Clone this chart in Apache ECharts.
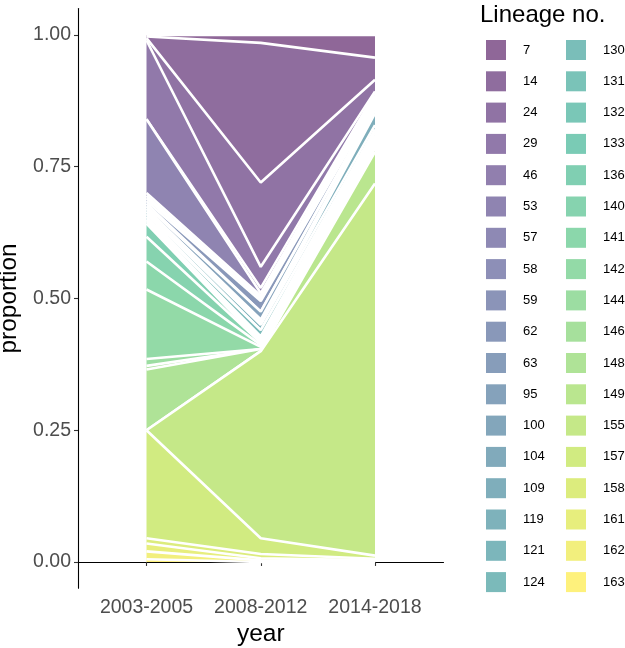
<!DOCTYPE html>
<html>
<head>
<meta charset="utf-8">
<script src="https://cdn.jsdelivr.net/npm/echarts@6/dist/echarts.min.js"></script>
<style>html,body{margin:0;padding:0;background:#fff}#c{width:625px;height:648px}</style>
</head>
<body>
<div id="c"></div>
<script>
// ---- data ----
const years = ['2003-2005', '2008-2012', '2014-2018'];
const lineages = ['7','14','24','29','46','53','57','58','59','62','63','95','100','104','109','119','121','124','130','131','132','133','136','140','141','142','144','146','148','149','155','157','158','161','162','163'];
const p2003 = [.003,.003,.004,.150,0,.140,.005,.005,.005,.005,.005,.005,0,.005,.005,.005,.005,.003,.005,0,0,0,.025,.047,.053,.132,.013,.007,.115,0,0,.205,.010,.015,.015,.005];
const p2008 = [.015,.265,.160,.040,.010,.005,.005,0,.005,.020,0,.015,.005,.005,0,.010,0,.012,.004,.004,0,.004,0,.004,.004,.004,0,0,.004,0,.355,.030,.008,.004,.003,0];
const p2014 = [.043,.042,.022,.004,.004,.004,.004,.004,.004,.004,.004,.004,0,.006,.022,.008,.004,0,.004,.004,0,.004,.004,0,.004,.004,.004,.004,.007,.060,.706,.006,.003,.002,.001,0];
const yTicks = [0, 0.25, 0.5, 0.75, 1];

// ---- colours: viridis, alpha 0.6 over white ----
const viridisStops = ['#440154','#482576','#414487','#35608D','#2A788E','#21908C','#22A884','#43BF71','#7AD151','#BBDF27','#FDE725'];
function hex(h){return [parseInt(h.slice(1,3),16),parseInt(h.slice(3,5),16),parseInt(h.slice(5,7),16)];}
function viridis(t){
  const s = t*(viridisStops.length-1); const i = Math.min(Math.floor(s), viridisStops.length-2); const f = s-i;
  const a = hex(viridisStops[i]), b = hex(viridisStops[i+1]);
  return a.map((v,k)=>v+(b[k]-v)*f);
}
function fillColor(i){
  const c = viridis(i/(lineages.length-1));
  const m = c.map(v=>Math.round(0.6*v+0.4*255));
  return 'rgb('+m.join(',')+')';
}

const cols = [p2003, p2008, p2014];
const series = [];
for (let i = lineages.length-1; i >= 0; i--) {
  const col = fillColor(i);
  series.push({
    name: lineages[i],
    type: 'line',
    stack: 'total',
    xAxisIndex: 0, yAxisIndex: 0,
    symbol: 'none',
    smooth: false,
    z: 3 + i,
    color: col,
    itemStyle: {color: col},
    lineStyle: {color: '#ffffff', width: 2.6},
    areaStyle: {color: col, opacity: 1},
    emphasis: {disabled: true},
    data: years.map((y, k) => cols[k][i])
  });
}

const font = 'Liberation Sans, Arial, Helvetica, sans-serif';
const legendCommon = {
  orient: 'vertical', icon: 'rect', itemWidth: 20, itemHeight: 20, itemGap: 11.3,
  top: 40, selectedMode: false, padding: 0,
  itemStyle: {borderWidth: 0},
  textStyle: {fontSize: 13, color: '#000', fontFamily: font, padding: [0,0,0,12]}
};
const gTop = 8.6, gH = 579.7;

const chart = echarts.init(document.getElementById('c'), null, {renderer: 'canvas'});
chart.setOption({
  animation: false,
  backgroundColor: '#fff',
  title: {text: 'Lineage no.', left: 480, top: 3, padding: 0,
          textStyle: {fontSize: 24, fontWeight: 'normal', color: '#000', fontFamily: font}},
  legend: [
    Object.assign({}, legendCommon, {left: 486, data: lineages.slice(0, 18)}),
    Object.assign({}, legendCommon, {left: 566, data: lineages.slice(18)})
  ],
  grid: [
    {left: 146.5, top: gTop, width: 228.5, height: gH, containLabel: false, outerBoundsMode: 'none'},
    {left: 78, top: gTop, width: 365.5, height: gH, containLabel: false, outerBoundsMode: 'none'}
  ],
  xAxis: [
    {gridIndex: 0, type: 'category', data: years, boundaryGap: false, show: false},
    {
      gridIndex: 1, type: 'value', min: 0.4, max: 3.6,
      name: 'year', nameLocation: 'middle', nameGap: 27,
      nameTextStyle: {fontSize: 24.5, color: '#000', fontFamily: font},
      axisLine: {show: true, lineStyle: {color: '#000', width: 1.1}},
      axisTick: {show: true, length: 4, customValues: [1,2,3], lineStyle: {color: '#333', width: 1.1}},
      axisLabel: {customValues: [1,2,3], formatter: v => years[Math.round(v)-1], fontSize: 19.5, color: '#4D4D4D', fontFamily: font, margin: 9},
      splitLine: {show: false}
    }
  ],
  yAxis: [
    {gridIndex: 0, type: 'value', min: -0.05, max: 1.05, show: false, splitLine: {show: false}},
    {
      gridIndex: 1, type: 'value', min: -0.05, max: 1.05,
      name: 'proportion', nameLocation: 'middle', nameGap: 46,
      nameTextStyle: {fontSize: 24.5, color: '#000', fontFamily: font},
      axisLine: {show: true, lineStyle: {color: '#000', width: 1.1}},
      axisTick: {show: true, length: 4, customValues: yTicks, lineStyle: {color: '#333', width: 1.1}},
      axisLabel: {customValues: yTicks, formatter: v => v.toFixed(2), fontSize: 19.5, color: '#4D4D4D', fontFamily: font, margin: 7},
      splitLine: {show: false}
    }
  ],
  series: series
});
</script>
</body>
</html>
